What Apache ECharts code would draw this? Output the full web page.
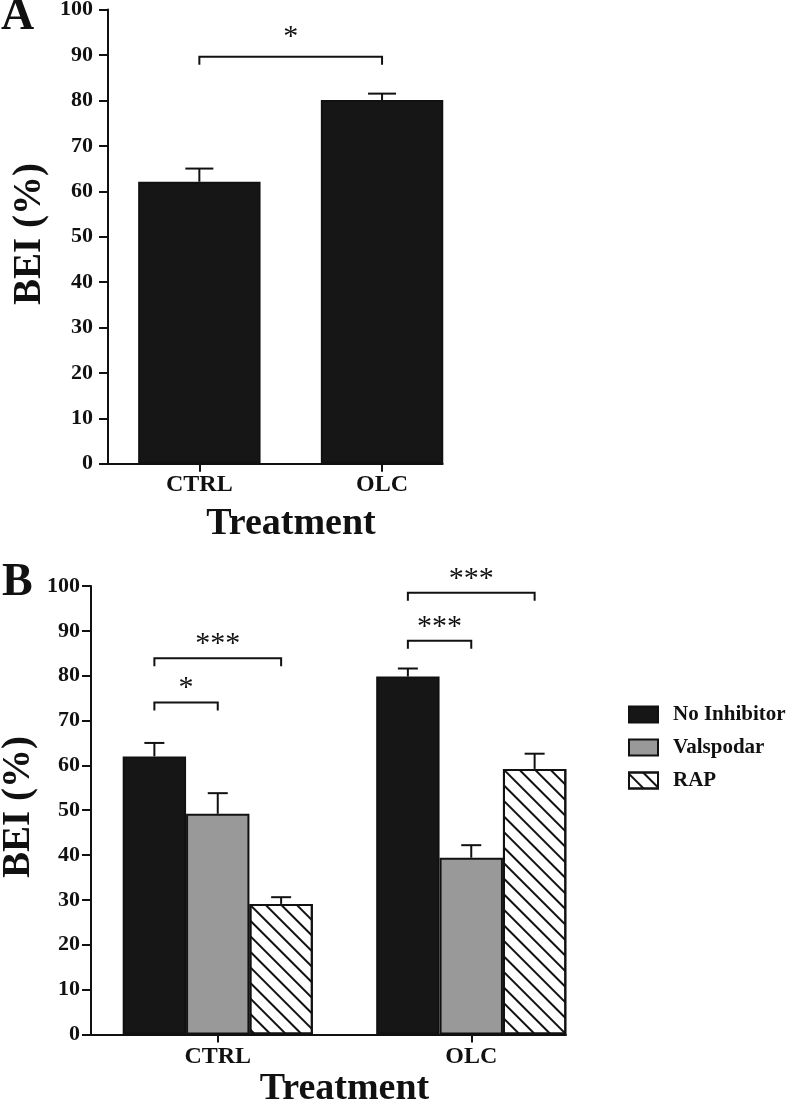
<!DOCTYPE html>
<html>
<head>
<meta charset="utf-8">
<script src="https://cdn.jsdelivr.net/npm/echarts@6/dist/echarts.min.js"></script>
<style>html,body{margin:0;padding:0;background:#fff}#c{width:788px;height:1103px}</style>
</head>
<body>
<div id="c"></div>
<script>
// ---- data ----
const categories = ['CTRL', 'OLC'];
const yMin = 0, yMax = 100, yStep = 10;

// Panel A
const panelAValues = [62.1, 80.1];
const panelAErrTop = [65.0, 81.5];
const panelASig = [{ c1: 0, s1: 0, c2: 1, s2: 0, y: 89.6, label: '*' }];

// Panel B
const seriesNames = ['No Inhibitor', 'Valspodar', 'RAP'];
const noInhibitor = [62.0, 79.8];
const noInhibitorErrTop = [65.0, 81.6];
const valspodar = [49.2, 39.4];
const valspodarErrTop = [53.8, 42.2];
const rap = [29.1, 59.2];
const rapErrTop = [30.6, 62.6];
const panelBSig = [
  { c1: 0, s1: 0, c2: 0, s2: 1, y: 74.0, label: '*' },
  { c1: 0, s1: 0, c2: 0, s2: 2, y: 83.9, label: '***' },
  { c1: 1, s1: 0, c2: 1, s2: 1, y: 87.8, label: '***' },
  { c1: 1, s1: 0, c2: 1, s2: 2, y: 98.5, label: '***' }
];

// ---- style ----
const FONT = '"Liberation Serif", "Times New Roman", serif';
const INK = '#111111';
const BLACK = '#161616';
const GRAY = '#999999';
const GAP_A = 0.33, GAP_B = 0.25;

function slotOffset(band, nSlots, gap, slot) {
  const bw = band * (1 - gap) / nSlots;
  return (slot - (nSlots - 1) / 2) * bw;
}

function errRender(nSlots, gap, capW) {
  return function (params, api) {
    const cat = api.value(0), slot = api.value(1), val = api.value(2), top = api.value(3);
    const band = api.size([1, 0])[0];
    const off = slotOffset(band, nSlots, gap, slot);
    const p0 = api.coord([cat, val]);
    const p1 = api.coord([cat, top]);
    const x = p0[0] + off;
    return {
      type: 'group',
      children: [
        { type: 'line', shape: { x1: x, y1: p0[1], x2: x, y2: p1[1] }, style: { stroke: INK, lineWidth: 2 } },
        { type: 'line', shape: { x1: x - capW / 2, y1: p1[1], x2: x + capW / 2, y2: p1[1] }, style: { stroke: INK, lineWidth: 2 } }
      ]
    };
  };
}

function sigRender(sig, nSlots, gap, textOff) {
  return function (params, api) {
    const d = sig[params.dataIndex];
    const band = api.size([1, 0])[0];
    const a = api.coord([d.c1, d.y]);
    const b = api.coord([d.c2, d.y]);
    const x1 = a[0] + slotOffset(band, nSlots, gap, d.s1);
    const x2 = b[0] + slotOffset(band, nSlots, gap, d.s2);
    const y = a[1];
    const leg = 8;
    return {
      type: 'group',
      children: [
        { type: 'polyline', shape: { points: [[x1, y + leg], [x1, y], [x2, y], [x2, y + leg]] }, style: { stroke: INK, lineWidth: 2, fill: null } },
        { type: 'text', style: { text: d.label, x: (x1 + x2) / 2, y: y - textOff, align: 'center', verticalAlign: 'middle', font: '30px ' + FONT, fill: INK } }
      ]
    };
  };
}

function errData(vals, tops, slot) {
  return vals.map((v, i) => [i, slot, v, tops[i]]);
}

const catAxisBase = (grid, margin) => ({
  gridIndex: grid, type: 'category', data: categories,
  axisLine: { show: false },
  axisTick: { show: true, alignWithLabel: true, length: 8, lineStyle: { color: INK, width: 2 } },
  axisLabel: { fontSize: 24, fontWeight: 'bold', fontFamily: FONT, color: INK, margin: margin },
  splitLine: { show: false }
});
const valAxisBase = (grid, margin) => ({
  gridIndex: grid, type: 'value', min: yMin, max: yMax, interval: yStep,
  axisLine: { show: true, lineStyle: { color: INK, width: 2 } },
  axisTick: { show: true, length: 9, lineStyle: { color: INK, width: 2 } },
  axisLabel: { fontSize: 22, fontWeight: 'bold', fontFamily: FONT, color: INK, margin: margin },
  splitLine: { show: false }
});
const lineAxis = (grid) => ({
  gridIndex: grid, type: 'value', min: 0, max: 1,
  axisLine: { show: true, onZero: false, lineStyle: { color: INK, width: 2 } },
  axisTick: { show: false }, axisLabel: { show: false }, splitLine: { show: false }
});
const hiddenAxis = (grid) => ({ gridIndex: grid, type: 'value', show: false, min: 0, max: 1 });

const hatch = { symbol: 'rect', symbolSize: 1, dashArrayX: [1, 0], dashArrayY: [2, 9], rotation: Math.PI / 4, color: INK };

const option = {
  animation: false,
  backgroundColor: '#fff',
  grid: [
    { left: 108, top: 9.6, width: 365.4, height: 454.2, outerBoundsMode: 'none' },
    { left: 91, top: 586, width: 507, height: 448.4, outerBoundsMode: 'none' },
    { left: 108, top: 9.6, width: 334.7, height: 454.2, outerBoundsMode: 'none' },
    { left: 91, top: 586, width: 475, height: 448.4, outerBoundsMode: 'none' }
  ],
  xAxis: [catAxisBase(0, 9), catAxisBase(1, 10), lineAxis(2), lineAxis(3)],
  yAxis: [valAxisBase(0, 15), valAxisBase(1, 11), hiddenAxis(2), hiddenAxis(3)],
  legend: {
    data: seriesNames, orient: 'vertical', left: 628, top: 704, padding: 0,
    itemWidth: 29, itemHeight: 16, itemGap: 12, icon: 'rect', selectedMode: false,
    textStyle: { fontSize: 21, fontWeight: 'bold', fontFamily: FONT, color: INK, padding: [0, 0, 0, 10] },
    itemStyle: { borderColor: INK, borderWidth: 2 }
  },
  graphic: [
    { type: 'text', x: 1, y: 17.5, style: { text: 'A', font: 'bold 46px ' + FONT, fill: INK, align: 'left', verticalAlign: 'middle' } },
    { type: 'text', x: 2, y: 582.7, style: { text: 'B', font: 'bold 46px ' + FONT, fill: INK, align: 'left', verticalAlign: 'middle' } },
    { type: 'text', x: 30, y: 234, rotation: Math.PI / 2, style: { text: 'BEI (%)', font: 'bold 39px ' + FONT, fill: INK, align: 'center', verticalAlign: 'middle' } },
    { type: 'text', x: 19, y: 807, rotation: Math.PI / 2, style: { text: 'BEI (%)', font: 'bold 39px ' + FONT, fill: INK, align: 'center', verticalAlign: 'middle' } },
    { type: 'text', x: 291, y: 523.8, style: { text: 'Treatment', font: 'bold 38px ' + FONT, fill: INK, align: 'center', verticalAlign: 'middle' } },
    { type: 'text', x: 344.5, y: 1089, style: { text: 'Treatment', font: 'bold 38px ' + FONT, fill: INK, align: 'center', verticalAlign: 'middle' } }
  ],
  series: [
    { name: 'A', type: 'bar', xAxisIndex: 0, yAxisIndex: 0, data: panelAValues, barCategoryGap: (GAP_A * 100) + '%',
      itemStyle: { color: BLACK, borderColor: INK, borderWidth: 2 } },
    { name: 'errA', type: 'custom', xAxisIndex: 0, yAxisIndex: 0, z: 5, renderItem: errRender(1, GAP_A, 28), data: errData(panelAValues, panelAErrTop, 0) },
    { name: 'sigA', type: 'custom', xAxisIndex: 0, yAxisIndex: 0, z: 5, renderItem: sigRender(panelASig, 1, GAP_A, 20), data: panelASig.map(d => [d.c1, d.y]) },

    { name: seriesNames[0], type: 'bar', xAxisIndex: 1, yAxisIndex: 1, data: noInhibitor, barGap: '0%', barCategoryGap: (GAP_B * 100) + '%',
      itemStyle: { color: BLACK, borderColor: INK, borderWidth: 2 } },
    { name: seriesNames[1], type: 'bar', xAxisIndex: 1, yAxisIndex: 1, data: valspodar, barGap: '0%', barCategoryGap: (GAP_B * 100) + '%',
      itemStyle: { color: GRAY, borderColor: INK, borderWidth: 2 } },
    { name: seriesNames[2], type: 'bar', xAxisIndex: 1, yAxisIndex: 1, data: rap, barGap: '0%', barCategoryGap: (GAP_B * 100) + '%',
      itemStyle: { color: '#ffffff', borderColor: INK, borderWidth: 2, decal: hatch } },
    { name: 'errB', type: 'custom', xAxisIndex: 1, yAxisIndex: 1, z: 5, renderItem: errRender(3, GAP_B, 20),
      data: errData(noInhibitor, noInhibitorErrTop, 0).concat(errData(valspodar, valspodarErrTop, 1), errData(rap, rapErrTop, 2)) },
    { name: 'sigB', type: 'custom', xAxisIndex: 1, yAxisIndex: 1, z: 5, renderItem: sigRender(panelBSig, 3, GAP_B, 14), data: panelBSig.map(d => [d.c1, d.y]) }
  ]
};

const chart = echarts.init(document.getElementById('c'), null, { renderer: 'canvas' });
chart.setOption(option);
</script>
</body>
</html>
